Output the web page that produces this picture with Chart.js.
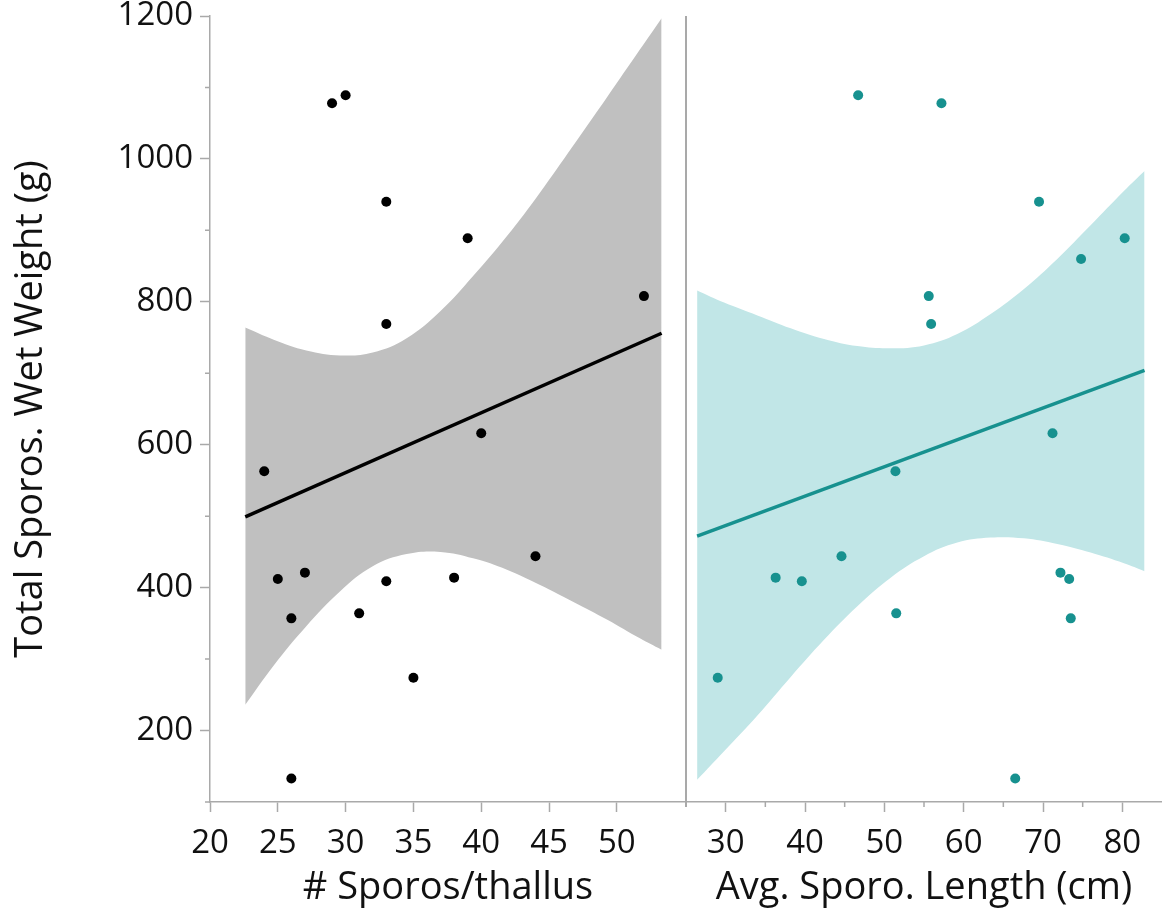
<!DOCTYPE html>
<html>
<head>
<meta charset="utf-8">
<title>Total Sporos. Wet Weight</title>
<script src="https://cdn.jsdelivr.net/npm/chart.js@4.4.0/dist/chart.umd.min.js"></script>
<style>
  html, body { margin: 0; padding: 0; background: #ffffff; }
  #wrap { width: 1162px; height: 917px; }
</style>
</head>
<body>
<div id="wrap"><canvas id="sporoChart" width="1162" height="917"></canvas></div>
<script>
// left panel: # Sporos/thallus
const sporosPerThallus = [24, 25, 26, 26, 27, 29, 30, 31, 33, 33, 33, 35, 38, 39, 40, 44, 52];
const thallusWetWeight = [563, 412, 357, 133, 421, 1078, 1089, 364, 940, 769, 409, 274, 414, 889, 616, 444, 808];
const thallusFitX = [22.6, 53.3];
const thallusFitY = [499, 756];
const thallusBandX = [22.6, 24.7, 27.1, 29.6, 32.0, 34.5, 37.0, 39.4, 41.9, 44.3, 46.8, 49.3, 51.7, 53.3];
const thallusBandHi = [764, 747, 732, 725, 729, 749, 787, 836, 892, 952, 1019, 1087, 1153, 1197];
const thallusBandLo = [236, 291, 346, 395, 430, 447, 450, 441, 425, 404, 380, 355, 329, 313];

// right panel: Avg. Sporo. Length (cm)
const sporoLength = [29.0, 36.3, 39.6, 44.6, 46.7, 51.4, 51.5, 55.6, 55.9, 57.2, 66.5, 69.5, 71.2, 72.2, 73.3, 73.5, 74.8, 80.3];
const lengthWetWeight = [274, 414, 409, 444, 1089, 563, 364, 808, 769, 1078, 133, 940, 616, 421, 412, 357, 860, 889];
const lengthFitX = [26.4, 82.8];
const lengthFitY = [472, 704];
const lengthBandX = [26.4, 29.8, 34.0, 38.2, 42.4, 46.6, 50.8, 55.0, 59.2, 63.4, 67.6, 71.8, 76.0, 80.2, 82.8];
const lengthBandHi = [816, 799, 781, 763, 748, 738, 735, 739, 755, 783, 818, 860, 907, 955, 983];
const lengthBandLo = [131, 171, 221, 275, 327, 374, 414, 444, 463, 470, 469, 461, 449, 434, 423];

// axis ticks
const weightTicks = [200, 400, 600, 800, 1000, 1200];
const weightMinorTicks = [100, 300, 500, 700, 900, 1100];
const thallusTicks = [20, 25, 30, 35, 40, 45, 50];
const lengthTicks = [30, 40, 50, 60, 70, 80];
const lengthMinorTicks = [25, 35, 45, 55, 65, 75];

const axisGrey = '#a9a9a9';
const inkColor = '#111111';
const tealDark = '#17918f';
const tealBand = '#c1e6e7';
const greyBand = '#c0c0c0';

Chart.defaults.font.family = "'Open Sans', 'Noto Sans', sans-serif";

function pts(xs, ys) {
    return xs.map((x, i) => ({ x: x, y: ys[i] }));
}

// short minor tick marks and the divider between the two panels
const panelDecor = {
    id: 'panelDecor',
    afterDraw(chart) {
        const ctx = chart.ctx;
        const yScale = chart.scales.y;
        const x2Scale = chart.scales.x2;
        ctx.save();
        ctx.strokeStyle = axisGrey;
        ctx.lineWidth = 1.5;
        ctx.beginPath();
        weightMinorTicks.forEach(v => {
            const py = yScale.getPixelForValue(v);
            ctx.moveTo(yScale.right - 5, py);
            ctx.lineTo(yScale.right, py);
        });
        lengthMinorTicks.forEach(v => {
            const px = x2Scale.getPixelForValue(v);
            ctx.moveTo(px, x2Scale.top);
            ctx.lineTo(px, x2Scale.top + 5);
        });
        ctx.stroke();
        ctx.lineWidth = 2;
        ctx.beginPath();
        ctx.moveTo(x2Scale.left, chart.chartArea.top);
        ctx.lineTo(x2Scale.left, x2Scale.top + 5);
        ctx.stroke();
        ctx.restore();
    }
};

function xAxis(min, max, ticks, title) {
    return {
        type: 'linear',
        position: 'bottom',
        stack: 'panels',
        stackWeight: 1,
        min: min,
        max: max,
        afterBuildTicks: s => { s.ticks = ticks.map(v => ({ value: v })); },
        afterFit: s => { s.height = 115; s.paddingLeft = 0; s.paddingRight = 0; },
        grid: { drawOnChartArea: false, drawTicks: true, tickLength: 10, tickColor: axisGrey, tickWidth: 1.5 },
        border: { display: true, color: axisGrey, width: 1.5 },
        ticks: { padding: 12, color: inkColor, font: { size: 33 }, maxRotation: 0, autoSkip: false },
        title: { display: true, text: title, color: inkColor, font: { size: 38 }, padding: { top: 0, bottom: 6 } }
    };
}

function bandLine(xs, ys, axisId, fill, color) {
    return {
        data: pts(xs, ys), xAxisID: axisId, order: fill ? 2 : 3,
        borderColor: 'transparent', borderWidth: 0, pointRadius: 0,
        tension: 0.4, fill: fill, backgroundColor: color
    };
}

const ctx = document.getElementById('sporoChart').getContext('2d');
new Chart(ctx, {
    type: 'line',
    data: {
        datasets: [
            {
                data: pts(sporosPerThallus, thallusWetWeight), xAxisID: 'x', order: 0,
                showLine: false, pointRadius: 5, pointBorderWidth: 0,
                pointBackgroundColor: '#000000', backgroundColor: '#000000'
            },
            {
                data: pts(thallusFitX, thallusFitY), xAxisID: 'x', order: 1,
                borderColor: '#000000', borderWidth: 3.5, pointRadius: 0, fill: false
            },
            bandLine(thallusBandX, thallusBandHi, 'x', '+1', greyBand),
            bandLine(thallusBandX, thallusBandLo, 'x', false, greyBand),
            {
                data: pts(sporoLength, lengthWetWeight), xAxisID: 'x2', order: 0,
                showLine: false, pointRadius: 5, pointBorderWidth: 0,
                pointBackgroundColor: tealDark, backgroundColor: tealDark
            },
            {
                data: pts(lengthFitX, lengthFitY), xAxisID: 'x2', order: 1,
                borderColor: tealDark, borderWidth: 3.5, pointRadius: 0, fill: false
            },
            bandLine(lengthBandX, lengthBandHi, 'x2', '+1', tealBand),
            bandLine(lengthBandX, lengthBandLo, 'x2', false, tealBand)
        ]
    },
    options: {
        responsive: false,
        animation: false,
        devicePixelRatio: 1,
        events: [],
        layout: { padding: 0, autoPadding: false },
        scales: {
            x: xAxis(20, 55.1, thallusTicks, '# Sporos/thallus'),
            x2: xAxis(25, 85, lengthTicks, 'Avg. Sporo. Length (cm)'),
            y: {
                type: 'linear',
                position: 'left',
                min: 100,
                max: 1200,
                afterBuildTicks: s => { s.ticks = weightTicks.map(v => ({ value: v })); },
                afterFit: s => { s.width = 210; s.paddingTop = 16; s.paddingBottom = 0; },
                grid: { drawOnChartArea: false, drawTicks: true, tickLength: 10, tickColor: axisGrey, tickWidth: 1.5 },
                border: { display: true, color: axisGrey, width: 1.5 },
                ticks: { padding: 7, color: inkColor, font: { size: 33 }, callback: v => String(v) },
                title: {
                    display: true,
                    text: 'Total Sporos. Wet Weight (g)',
                    color: inkColor,
                    font: { size: 38 },
                    padding: { top: 8, bottom: 0 }
                }
            }
        },
        plugins: {
            legend: { display: false },
            tooltip: { enabled: false }
        }
    },
    plugins: [panelDecor]
});
</script>
</body>
</html>
